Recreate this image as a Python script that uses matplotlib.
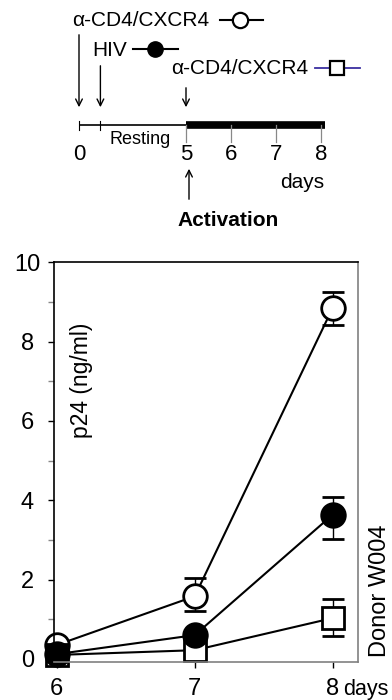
import matplotlib.pyplot as plt
import numpy as np

plt.rcParams['font.family'] = ['Liberation Sans', 'DejaVu Sans']

# time course data (days after activation)
days = [6, 7, 8]
open_y = [0.35, 1.58, 8.86]
open_lo = [0.0, 0.38, 0.45]
open_hi = [0.0, 0.46, 0.40]
filled_y = [0.12, 0.6, 3.64]
filled_lo = [0.0, 0.05, 0.62]
filled_hi = [0.0, 0.05, 0.44]
square_y = [0.1, 0.22, 1.03]
square_lo = [0.0, 0.0, 0.44]
square_hi = [0.0, 0.0, 0.48]

# schematic timeline
tl_days = [0, 1, 5, 6, 7, 8]
tl_labels = ['0', '', '5', '6', '7', '8']
arrow_days = [0, 1, 5]
arrow_tops = [32, 63, 85]

fig = plt.figure(figsize=(3.92, 7.0), dpi=100)

# ---- top schematic (pixel-like coordinates) ----
axt = fig.add_axes([0, 1 - 250 / 700, 1, 250 / 700])
axt.set_xlim(0, 392)
axt.set_ylim(250, 0)
axt.axis('off')

def dpx(d):
    return np.interp(d, [0, 5, 8], [79, 186, 321])

ty = 125
axt.plot([dpx(0), dpx(5)], [ty, ty], color='black', lw=1.2, solid_capstyle='butt')
axt.plot([dpx(5), dpx(8) + 4], [ty - 0.5, ty - 0.5], color='black', lw=5.5, solid_capstyle='butt')
for d, lab in zip(tl_days, tl_labels):
    x = dpx(d)
    if d <= 1:
        axt.plot([x, x], [ty - 4, ty + 5], color='black', lw=0.8)
    else:
        axt.plot([x, x], [ty, ty + 17], color='#888888', lw=0.9)
    if lab:
        axt.text(x, 155, lab, ha='center', va='center', fontsize=16)
axt.text(302, 182, 'days', ha='center', va='center', fontsize=15)
axt.text(140, 139, 'Resting', ha='center', va='center', fontsize=13,
         bbox=dict(fc='white', ec='none', pad=0.5))

for d, top in zip(arrow_days, arrow_tops):
    axt.annotate('', xy=(dpx(d), 110), xytext=(dpx(d), top),
                 arrowprops=dict(arrowstyle='->', lw=1.0, color='black',
                                 mutation_scale=12))
axt.annotate('', xy=(dpx(5) + 3, 166), xytext=(dpx(5) + 3, 202),
             arrowprops=dict(arrowstyle='->', lw=1.0, color='black',
                             mutation_scale=12))
axt.text(228, 220, 'Activation', ha='center', va='center', fontsize=15,
         fontweight='bold')

# legend rows
axt.text(72, 21, 'α-CD4/CXCR4', ha='left', va='center', fontsize=15)
axt.plot([220, 263], [20, 20], color='black', lw=1.5)
axt.plot([240], [20], 'o', ms=11, mfc='white', mec='black', mew=1.6)
axt.text(92, 50, 'HIV', ha='left', va='center', fontsize=15)
axt.plot([133, 178], [49, 49], color='black', lw=1.5)
axt.plot([155], [49], 'o', ms=11, mfc='black', mec='black')
axt.text(171, 68, 'α-CD4/CXCR4', ha='left', va='center', fontsize=15)
axt.plot([315, 360], [68, 68], color='#3a2fa0', lw=1.3)
axt.plot([337], [68], 's', ms=10, mfc='white', mec='black', mew=1.6)

# ---- bottom p24 plot ----
ax = fig.add_axes([54.3 / 392, 1 - 661.7 / 700, 303.4 / 392, 399.4 / 700])

kw = dict(color='black', lw=1.5, capsize=8, elinewidth=1.0, capthick=1.0,
          ms=17, mew=2.0, mec='black', clip_on=False)
ax.errorbar(days, open_y, yerr=[open_lo, open_hi], fmt='-o', mfc='white', **kw)
kw['ms'] = 16
ax.errorbar(days, square_y, yerr=[square_lo, square_hi], fmt='-s', mfc='white', **kw)
kw['ms'] = 17
ax.errorbar(days, filled_y, yerr=[filled_lo, filled_hi], fmt='-o', mfc='black', **kw)

ax.set_xlim(5.983, 8.18)
ax.set_ylim(-0.07, 10)
ax.set_xticks(days)
ax.set_xticklabels(['6', '7', '8'])
ax.set_yticks([0, 2, 4, 6, 8, 10])
ax.set_yticks([1, 3, 5, 7, 9], minor=True)
ax.tick_params(axis='both', which='both', direction='out', length=4.5,
               width=1.0, labelsize=17, colors='black')
ax.tick_params(axis='y', which='minor', color='#888888')
ax.tick_params(axis='x', pad=7)
ax.tick_params(axis='y', pad=15)
for lab in ax.get_yticklabels():
    lab.set_ha('center')
for side in ['left', 'top']:
    ax.spines[side].set_color('black')
    ax.spines[side].set_linewidth(1.2)
for side in ['right', 'bottom']:
    ax.spines[side].set_color('#808080')
    ax.spines[side].set_linewidth(1.2)

ax.text(0.091, 0.705, 'p24 (ng/ml)', transform=ax.transAxes, rotation=90,
        ha='center', va='center', fontsize=16.5)
lab8 = ax.get_xticklabels()[2]
ax.annotate('days', xy=(1, 0), xycoords=lab8, xytext=(3, 0),
            textcoords='offset points', ha='left', va='bottom', fontsize=15.5)
fig.text(380 / 392, 1 - 591 / 700, 'Donor W004', rotation=90,
         ha='center', va='center', fontsize=17)

fig.savefig('out.png', dpi=100)
